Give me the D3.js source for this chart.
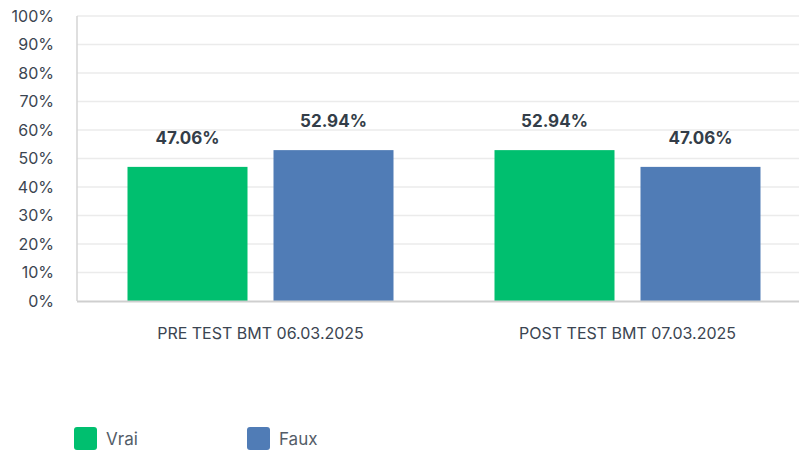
<!DOCTYPE html>
<html>
<head>
<meta charset="utf-8">
<script src="https://cdn.jsdelivr.net/npm/d3@7"></script>
<style>
  body { margin: 0; background: #fff; }
  svg { display: block; font-family: Inter, "Noto Sans", sans-serif; }
</style>
</head>
<body>
<div id="chart"></div>
<script>
const categories = ["PRE TEST BMT 06.03.2025", "POST TEST BMT 07.03.2025"]
const series = ["Vrai", "Faux"]
const vrai = [47.06, 52.94]
const faux = [52.94, 47.06]
const yTicks = [0, 10, 20, 30, 40, 50, 60, 70, 80, 90, 100]
const colors = ["#00bf6f", "#507cb6"]

const chart_width = 799
const chart_height = 452
const plot_left = 77
const plot_top = 16
const plot_bottom = 301

const svg = d3.select("#chart").append("svg")
  .attr("width", chart_width)
  .attr("height", chart_height)

const y = d3.scaleLinear().domain([0, 100]).range([plot_bottom, plot_top])
const x0 = d3.scaleBand().domain(categories).range([plot_left, 811])
const x1 = d3.scaleBand().domain(series)
  .range([50.5, x0.bandwidth() - 50.5])
  .paddingInner(26 / 146)

// grid lines
svg.append("g")
  .selectAll("line")
  .data(yTicks.slice(1))
  .join("line")
  .attr("x1", plot_left)
  .attr("x2", chart_width)
  .attr("y1", d => y(d))
  .attr("y2", d => y(d))
  .attr("stroke", "#ebebeb")
  .attr("stroke-width", 1.5)

// y tick labels
svg.append("g")
  .selectAll("text")
  .data(yTicks)
  .join("text")
  .attr("x", 54)
  .attr("y", d => y(d))
  .attr("dy", "0.36em")
  .attr("text-anchor", "end")
  .style("font-size", "16px")
  .style("fill", "#3b4551")
  .text(d => d + "%")

// bars
const values = [vrai, faux]
const groups = svg.append("g")
  .selectAll("g")
  .data(categories)
  .join("g")
  .attr("transform", d => `translate(${x0(d)},0)`)

groups.selectAll("rect")
  .data((d, i) => series.map((s, j) => ({ s: s, v: values[j][i], c: colors[j] })))
  .join("rect")
  .attr("x", d => x1(d.s))
  .attr("width", x1.bandwidth())
  .attr("y", d => y(d.v))
  .attr("height", d => plot_bottom - y(d.v))
  .attr("fill", d => d.c)

groups.selectAll("text.val")
  .data((d, i) => series.map((s, j) => ({ s: s, v: values[j][i] })))
  .join("text")
  .attr("class", "val")
  .attr("x", d => x1(d.s) + x1.bandwidth() / 2)
  .attr("y", d => y(d.v) - 23)
  .attr("text-anchor", "middle")
  .style("font-size", "17px")
  .style("font-weight", "bold")
  .style("fill", "#333d48")
  .text(d => d.v.toFixed(2) + "%")

// axes lines
svg.append("line")
  .attr("x1", plot_left).attr("x2", plot_left)
  .attr("y1", plot_top).attr("y2", plot_bottom)
  .attr("stroke", "#d4d4d4").attr("stroke-width", 1.5)
svg.append("line")
  .attr("x1", plot_left).attr("x2", chart_width)
  .attr("y1", plot_bottom + 0.5).attr("y2", plot_bottom + 0.5)
  .attr("stroke", "#cfcfcf").attr("stroke-width", 2)

// category labels
svg.append("g")
  .selectAll("text")
  .data(categories)
  .join("text")
  .attr("x", d => x0(d) + x0.bandwidth() / 2)
  .attr("y", 339)
  .attr("text-anchor", "middle")
  .style("font-size", "16px")
  .style("fill", "#3b4551")
  .text(d => d)

// legend
const legend = svg.append("g")
  .selectAll("g")
  .data(series)
  .join("g")
  .attr("transform", (d, i) => `translate(${74 + i * 173},427)`)
legend.append("rect")
  .attr("width", 23).attr("height", 23)
  .attr("rx", 3)
  .attr("fill", (d, i) => colors[i])
legend.append("text")
  .attr("x", 32).attr("y", 18)
  .style("font-size", "17px")
  .style("fill", "#545d68")
  .text(d => d)
</script>
</body>
</html>
